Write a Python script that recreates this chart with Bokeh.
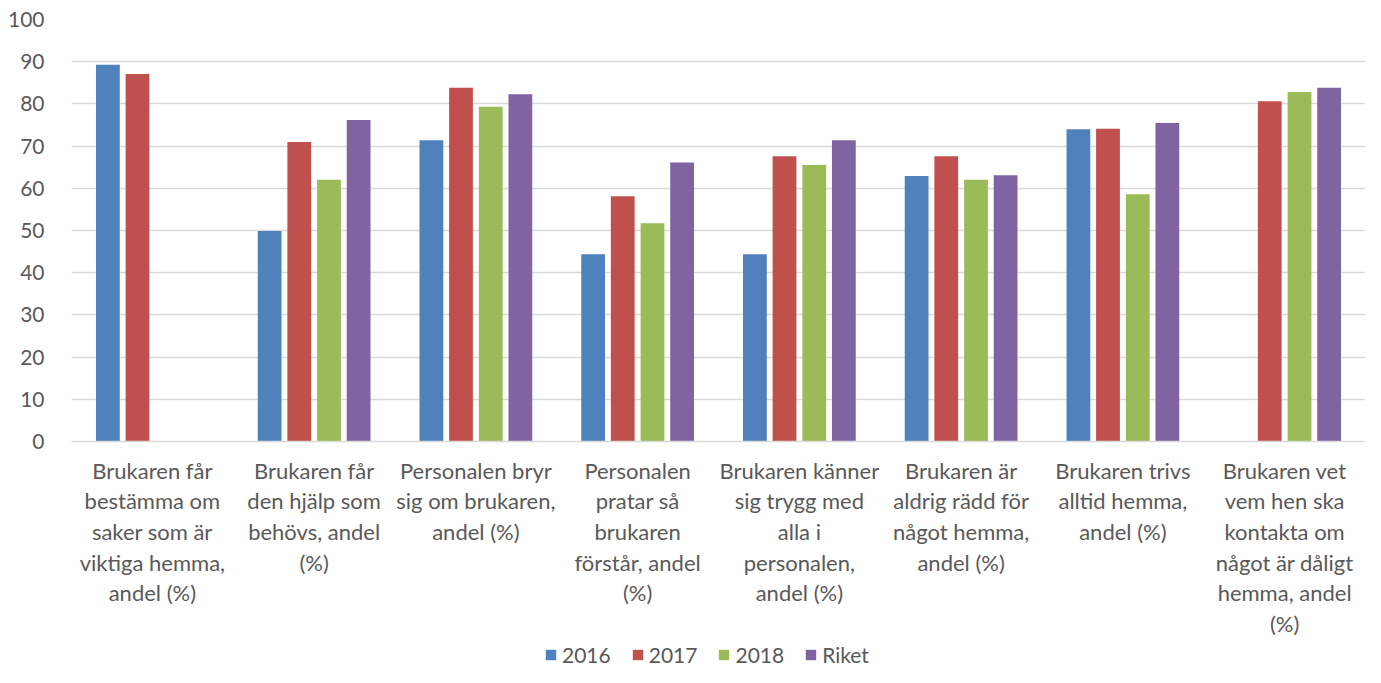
from bokeh.plotting import figure
from bokeh.models import ColumnDataSource, FactorRange, FixedTicker, Legend, LegendItem
from bokeh.layouts import column
from bokeh.transform import dodge
from bokeh.embed import file_html
from bokeh.resources import INLINE
import numpy as np

categories = [
    "Brukaren får\nbestämma om\nsaker som är\nviktiga hemma,\nandel (%)",
    "Brukaren får\nden hjälp som\nbehövs, andel\n(%)",
    "Personalen bryr\nsig om brukaren,\nandel (%)",
    "Personalen\npratar så\nbrukaren\nförstår, andel\n(%)",
    "Brukaren känner\nsig trygg med\nalla i\npersonalen,\nandel (%)",
    "Brukaren är\naldrig rädd för\nnågot hemma,\nandel (%)",
    "Brukaren trivs\nalltid hemma,\nandel (%)",
    "Brukaren vet\nvem hen ska\nkontakta om\nnågot är dåligt\nhemma, andel\n(%)",
]
series_names = ["2016", "2017", "2018", "Riket"]
v2016 = [89.3, 49.9, 71.4, 44.4, 44.4, 62.9, 74.0, np.nan]
v2017 = [87.1, 71.0, 83.8, 58.1, 67.6, 67.6, 74.1, 80.6]
v2018 = [np.nan, 62.0, 79.3, 51.7, 65.5, 62.0, 58.6, 82.8]
vriket = [np.nan, 76.2, 82.3, 66.1, 71.4, 63.1, 75.5, 83.8]
y_ticks = [0, 10, 20, 30, 40, 50, 60, 70, 80, 90, 100]

colors = ["#4F81BD", "#C0504D", "#9BBB59", "#8064A2"]
FONT = "Lato"
TXT = "#595959"

source = ColumnDataSource(dict(cat=categories, s2016=v2016, s2017=v2017, s2018=v2018, riket=vriket))

p = figure(
    x_range=FactorRange(*categories), y_range=(0, 100),
    width=1365, height=641, output_backend="svg", toolbar_location=None,
    min_border_left=71, min_border_right=0, min_border_top=19, min_border_bottom=200,
    outline_line_color=None,
)

cols = ["s2016", "s2017", "s2018", "riket"]
offsets = [-0.275, -0.092, 0.092, 0.275]
for c, off, col in zip(cols, offsets, colors):
    p.vbar(x=dodge("cat", off, range=p.x_range), top=c, width=0.147, source=source,
           fill_color=col, line_color=None)

p.xgrid.grid_line_color = None
p.ygrid.grid_line_color = "#D9D9D9"
p.ygrid.grid_line_width = 1.3

p.yaxis.ticker = FixedTicker(ticks=y_ticks)
p.yaxis.axis_line_color = None
p.yaxis.major_tick_line_color = None
p.yaxis.minor_tick_line_color = None
p.yaxis.major_label_text_font = FONT
p.yaxis.major_label_text_font_size = "21px"
p.yaxis.major_label_text_color = TXT
p.yaxis.major_label_standoff = 21

p.xaxis.axis_line_color = "#D9D9D9"
p.xaxis.axis_line_width = 1.3
p.xaxis.major_tick_line_color = None
p.xaxis.minor_tick_line_color = None
p.xaxis.major_label_text_font = FONT
p.xaxis.major_label_text_font_size = "22px"
p.xaxis.major_label_text_color = TXT
p.xaxis.major_label_text_line_height = 1.136
p.xaxis.major_label_standoff = 9

# legend in a thin strip below
lg = figure(width=1365, height=26, output_backend="svg", toolbar_location=None,
            min_border=0, outline_line_color=None, x_range=(0, 1), y_range=(0, 1))
lg.axis.visible = False
lg.grid.grid_line_color = None
items = []
for name, col in zip(series_names, colors):
    r = lg.rect(x=np.array([np.nan]), y=np.array([np.nan]), width=1, height=1,
                fill_color=col, line_color=None)
    items.append(LegendItem(label=name, renderers=[r]))
legend = Legend(
    items=items, orientation="horizontal", location=(473, 0),
    label_text_font=FONT, label_text_font_size="21px", label_text_color=TXT,
    glyph_width=13, glyph_height=13, label_standoff=5, spacing=20,
    padding=0, margin=0, border_line_color=None, background_fill_alpha=0,
)
lg.add_layout(legend, "center")

layout = column(p, lg, spacing=0)
open("out.html", "w").write(file_html(layout, INLINE))
